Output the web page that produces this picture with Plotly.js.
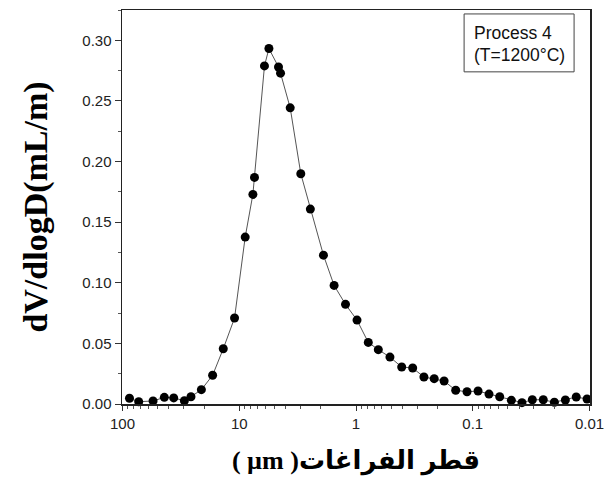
<!DOCTYPE html>
<html>
<head>
<meta charset="utf-8">
<script src="https://cdn.plot.ly/plotly-3.0.1.min.js"></script>
<style>html,body{margin:0;padding:0;background:#fff;}</style>
</head>
<body>
<div id="chart" style="width:604px;height:483px;"></div>
<script>
// Pore diameter (µm) and dV/dlogD (mL/m)
const poreDiameter = [87.1, 72.6, 54.7, 43.8, 36.4, 29.5, 25.9, 21.1, 16.9, 13.7,
  10.97, 8.89, 7.64, 7.40, 6.08, 5.57, 4.61, 4.43, 3.66, 2.97,
  2.46, 1.90, 1.54, 1.23, 0.980, 0.785, 0.644, 0.512, 0.406, 0.327,
  0.262, 0.214, 0.176, 0.140, 0.112, 0.0901, 0.0726, 0.0588, 0.0467, 0.0379,
  0.0309, 0.0249, 0.0200, 0.0161, 0.0130, 0.0105];
const dVdlogD = [0.0047, 0.0019, 0.0025, 0.0055, 0.0050, 0.0027, 0.0060, 0.0118, 0.0237, 0.0456,
  0.0709, 0.1377, 0.1729, 0.1869, 0.2789, 0.2932, 0.2780, 0.2729, 0.2443, 0.1899,
  0.1608, 0.1228, 0.0978, 0.0822, 0.0692, 0.0508, 0.0448, 0.0387, 0.0305, 0.0297,
  0.0223, 0.0209, 0.0190, 0.0113, 0.0101, 0.0107, 0.0082, 0.0060, 0.0030, 0.0011,
  0.0035, 0.0035, 0.0014, 0.0033, 0.0058, 0.0041];
const xTickVals = [100, 10, 1, 0.1, 0.01];
const xTickText = ['100', '10', '1', '0.1', '0.01'];
const legendLines = ['Process 4', '(T=1200°C)'];

const minorX = [];
[0.01, 0.1, 1, 10].forEach(d => { for (let k = 2; k <= 9; k++) minorX.push(+(d * k).toPrecision(3)); });

const trace = {
  x: poreDiameter, y: dVdlogD, type: 'scatter', mode: 'lines+markers',
  line: {color: '#555', width: 1},
  marker: {color: '#000', size: 9},
  cliponaxis: false, showlegend: false
};

const tickFont = {family: 'Liberation Sans, Arial, sans-serif', size: 15, color: '#222'};

const layout = {
  width: 604, height: 483,
  margin: {l: 122, r: 14, t: 10, b: 79},
  paper_bgcolor: '#fff', plot_bgcolor: '#fff',
  showlegend: false,
  xaxis: {
    type: 'log', range: [2.004, -2.004],
    tickvals: xTickVals, ticktext: xTickText,
    ticklabeloverflow: 'allow',
    ticks: 'outside', ticklen: 5, tickwidth: 1, tickcolor: '#333',
    minor: {tickvals: minorX, ticks: 'outside', ticklen: 3, tickcolor: '#555', showgrid: false},
    showline: true, linecolor: '#222', linewidth: 1.5, mirror: true,
    showgrid: false, zeroline: false,
    tickfont: tickFont,
    title: {text: '( µm )قطر الفراغات', standoff: 20,
      font: {family: 'Liberation Serif, DejaVu Sans, serif', size: 26, color: '#000', weight: 'bold'}}
  },
  yaxis: {
    range: [0, 0.325], dtick: 0.05, tick0: 0, tickformat: '.2f',
    ticks: 'outside', ticklen: 6, tickwidth: 1, tickcolor: '#333',
    minor: {dtick: 0.025, ticks: 'outside', ticklen: 3, tickcolor: '#555', showgrid: false},
    showline: true, linecolor: '#222', linewidth: 1.5, mirror: true,
    showgrid: false, zeroline: false,
    tickfont: tickFont,
    title: {text: 'dV/dlogD(mL/m)', standoff: 24,
      font: {family: 'Liberation Serif, Times New Roman, serif', size: 34, color: '#000', weight: 'bold'}}
  },
  shapes: [{
    type: 'rect', xref: 'paper', yref: 'paper',
    x0: 0.731, x1: 0.966, y0: 0.843, y1: 0.99,
    line: {color: '#444', width: 1}, fillcolor: 'rgba(0,0,0,0)'
  }],
  annotations: [
    {xref: 'paper', yref: 'paper', x: 0.748, y: 0.942, xanchor: 'left', yanchor: 'middle',
     text: legendLines[0], showarrow: false,
     font: {family: 'Liberation Sans, Arial, sans-serif', size: 17.5, color: '#111'}},
    {xref: 'paper', yref: 'paper', x: 0.748, y: 0.885, xanchor: 'left', yanchor: 'middle',
     text: legendLines[1], showarrow: false,
     font: {family: 'Liberation Sans, Arial, sans-serif', size: 17.5, color: '#111'}}
  ]
};

Plotly.newPlot('chart', [trace], layout, {displayModeBar: false, staticPlot: true});
</script>
</body>
</html>
